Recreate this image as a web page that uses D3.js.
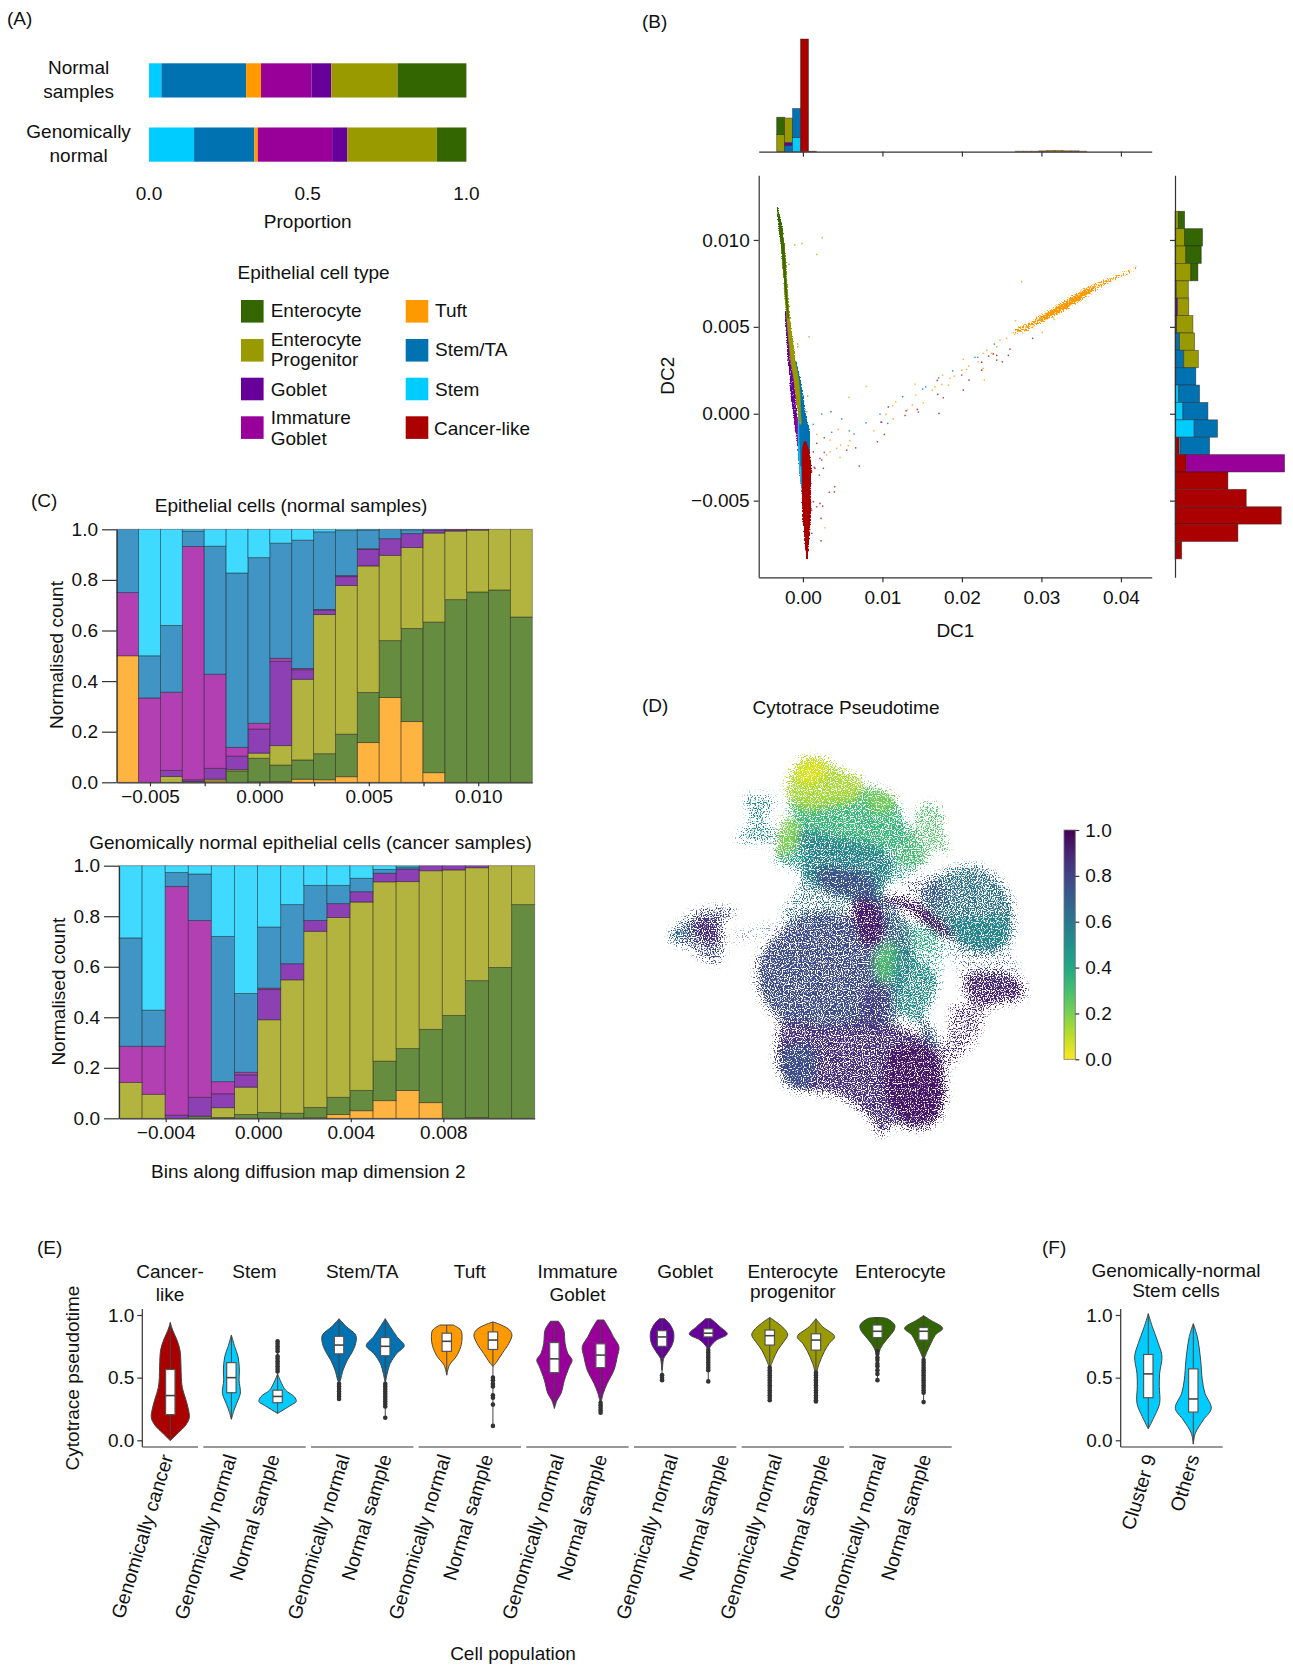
<!DOCTYPE html>
<html>
<head>
<meta charset="utf-8">
<script src="https://cdnjs.cloudflare.com/ajax/libs/d3/7.8.5/d3.min.js"></script>
<style>
  body { margin: 0; background: #fff; }
  svg { display: block; }
  text { font-family: "Liberation Sans", Arial, sans-serif; font-size: 19px; fill: #111; }
  .axis path, .axis line { stroke: #333; stroke-width: 1.2; }
  .axis text { font-size: 19px; }
</style>
</head>
<body>
<svg id="fig" width="1293" height="1666"></svg>
<script>
// cell types and colours
const typeNames = ["Enterocyte", "Enterocyte Progenitor", "Goblet", "Immature Goblet", "Tuft", "Stem/TA", "Stem", "Cancer-like"];
const typeColours = ["#336600", "#999900", "#660099", "#990099", "#ff9900", "#0072b2", "#00ccff", "#aa0000"];

// panel A: cumulative proportion, left to right
const stackOrderA = ["Stem", "Stem/TA", "Tuft", "Immature Goblet", "Goblet", "Enterocyte Progenitor", "Enterocyte"];
const propRows = ["Normal samples", "Genomically normal"];
const propNormal = [0.039, 0.306, 0.353, 0.512, 0.574, 0.783, 1.0];
const propGenNormal = [0.142, 0.332, 0.343, 0.577, 0.625, 0.907, 1.0];
const propTicks = [0, 0.5, 1];

// panel B: top histogram (dc1 bins)
const topBinStart = [-0.0033, -0.0023, -0.0013, -0.0003, 0.0007, 0.0267, 0.0277, 0.0287, 0.0297, 0.0307, 0.0317, 0.0327, 0.0337, 0.0347];
const topTA =     [0, 15, 73, 0, 0, 0, 0, 0, 0, 0, 0, 0, 0, 0];
const topStem =   [0, 0, 36, 0, 0, 0, 0, 0, 0, 0, 0, 0, 0, 0];
const topCancer = [0, 0, 0, 285, 1, 0, 0, 0, 0, 0, 0, 0, 0, 0];
const topTuft =   [0, 0, 0, 0, 0, 1, 1, 1, 2, 3, 3, 2, 2, 1];
const topGoblet = [0, 8, 0, 0, 0, 0, 0, 0, 0, 0, 0, 0, 0, 0];
const topEP =     [43, 62, 0, 0, 0, 0, 0, 0, 0, 0, 0, 0, 0, 0];
const topEnt =    [44, 0, 0, 0, 0, 0, 0, 0, 0, 0, 0, 0, 0, 0];

// panel B: right histogram (dc2 bins, top down)
const rightBinTop = [0.01165, 0.01065, 0.00965, 0.00865, 0.00765, 0.00665, 0.00565, 0.00465, 0.00365, 0.00265, 0.00165, 0.00065, -0.00035, -0.00135, -0.00235, -0.00335, -0.00435, -0.00535, -0.00635, -0.00735];
const rightCancer = [0, 0, 0, 0, 0, 0, 0, 0, 0, 0, 0, 0, 0, 10, 27, 127, 171, 255, 151, 16];
const rightStem =   [0, 0, 0, 0, 0, 0, 0, 0, 0, 0, 9, 19, 46, 3, 0, 0, 0, 0, 0, 0];
const rightTA =     [0, 0, 0, 0, 0, 0, 0, 11, 21, 50, 50, 60, 56, 70, 0, 0, 0, 0, 0, 0];
const rightImm =    [0, 0, 0, 0, 0, 0, 0, 0, 0, 0, 0, 0, 0, 0, 236, 0, 0, 0, 0, 0];
const rightGoblet = [0, 0, 0, 0, 3, 6, 4, 0, 0, 0, 0, 0, 0, 0, 0, 0, 0, 0, 0, 0];
const rightEP =     [8, 23, 26, 38, 29, 27, 39, 36, 35, 0, 0, 0, 0, 0, 0, 0, 0, 0, 0, 0];
const rightEnt =    [15, 43, 37, 17, 0, 0, 0, 0, 0, 0, 0, 0, 0, 0, 0, 0, 0, 0, 0, 0];

// panel B: dense part of the scatter, estimated as bands [dc2, dc1 left, dc1 right]
const bandEnt = [[0.01185, -0.00325, -0.00315], [0.01162, -0.00322, -0.00304], [0.01067, -0.00301, -0.00259], [0.00971, -0.00272, -0.00238], [0.00875, -0.00252, -0.00222], [0.00779, -0.00236, -0.00214], [0.00683, -0.00218, -0.00202], [0.0055, -0.0019, -0.0018]];
const bandEP = [[0.0107, -0.00295, -0.00262], [0.00971, -0.00272, -0.00236], [0.00875, -0.00258, -0.00213], [0.00779, -0.00243, -0.00204], [0.00683, -0.00228, -0.00191], [0.00587, -0.00208, -0.00171], [0.00491, -0.00192, -0.0015], [0.00395, -0.00172, -0.00121], [0.00299, -0.00152, -0.00095], [0.00204, -0.00115, -0.00055], [0.00108, -0.0009, -0.00035], [0.00012, -0.0006, -0.0003], [-0.0006, -0.0004, -0.0002]];
const bandGoblet = [[0.0059, -0.00222, -0.00205], [0.00491, -0.00213, -0.00185], [0.00395, -0.00196, -0.0016], [0.00299, -0.00184, -0.00145], [0.00204, -0.00162, -0.00115], [0.00108, -0.00153, -0.00095], [0.00012, -0.00121, -0.0008], [-0.00113, -0.00087, -0.0005]];
const bandImm = [[-0.0002, -0.00105, -0.0007], [-0.00113, -0.00087, -0.0004], [-0.00209, -0.00058, -0.0001], [-0.00305, -0.00045, 0.0001], [-0.00399, -0.00028, 0]];
const bandTA = [[0.00299, -0.00125, -0.00088], [0.00204, -0.00085, -0.00036], [0.00108, -0.00065, -0.00003], [0.00012, -0.00045, 0.00026], [-0.00113, -0.00045, 0.00085], [-0.00209, -0.00035, 0.00085], [-0.003, -0.0003, 0.0006]];
const bandStem = [[0.0006, -0.0006, -0.00038], [-0.00113, -0.0006, -0.0003], [-0.00209, -0.00056, -0.00028], [-0.00305, -0.00045, -0.0002], [-0.00399, -0.00028, -0.00008], [-0.0046, -0.00012, 0]];
const bandCancer = [[-0.0016, 0.00015, 0.0004], [-0.00209, -0.0001, 0.00075], [-0.00305, -0.00012, 0.00105], [-0.00399, -0.00012, 0.00098], [-0.00497, -0.0001, 0.00098], [-0.00593, -0.00003, 0.00098], [-0.00686, 0.00018, 0.00081], [-0.00784, 0.00035, 0.00068], [-0.00836, 0.00048, 0.00055]];
// orange arm: [dc1, dc2 low, dc2 high]
const bandTuft = [[0.0265, 0.00456, 0.00472], [0.02689, 0.00463, 0.00501], [0.02815, 0.00472, 0.0052], [0.02941, 0.0051, 0.00558], [0.03067, 0.00539, 0.00587], [0.03234, 0.00578, 0.00635], [0.03401, 0.00625, 0.00683], [0.0357, 0.00673, 0.00727], [0.03737, 0.00727, 0.00759], [0.03904, 0.00765, 0.00788], [0.04073, 0.00804, 0.00823], [0.04231, 0.00842, 0.00852]];
const bandTuftCore = [[0.0298, 0.00528, 0.00548], [0.03067, 0.00546, 0.00578], [0.03234, 0.00586, 0.00625], [0.03401, 0.00635, 0.00673], [0.0357, 0.00683, 0.00718], [0.0365, 0.00715, 0.00732]];

// panel B: single stray cells [dc1, dc2]
const strayTuft = [[0.02752, 0.0076], [0.02675, 0.00535], [0.03011, 0.00468], [0.03158, 0.00543], [0.02647, 0.00466], [0.02563, 0.00434], [0.02479, 0.00424], [0.02438, 0.00385], [0.02312, 0.00366], [0.02269, 0.00348], [0.02375, 0.00348], [0.02206, 0.00299], [0.02018, 0.00313], [0.02085, 0.00275], [0.01998, 0.00251], [0.0206, 0.00256], [0.02269, 0.00261], [0.02282, 0.00194], [0.01904, 0.00217], [0.0185, 0.00204], [0.01758, 0.00223], [0.01829, 0.00165], [0.01746, 0.00169], [0.01662, 0.00155], [0.01628, 0.00136], [0.0141, 0.00171], [0.01419, 0.00108], [0.01514, 0.00063], [0.01376, 0.0005], [0.01167, 0.00069], [0.0113, 0.00046], [0.01313, 0.00021], [0.01137, -0.0003], [0.01045, -0.00004], [0.00278, -0.00656], [0.00174, -0.00119], [0.00445, -0.0009], [0.00341, -0.00151], [0.00299, -0.00238], [0.00341, -0.00219], [0.00425, -0.00199], [0.00475, -0.0018], [0.00571, -0.00184], [0.00592, -0.00155], [0.00467, -0.00251], [0.00894, -0.00098], [0.00244, 0.01013], [-0.00011, 0.0098], [0.00174, 0.00917], [0.00798, 0.00158], [0.0058, 0.00094], [0.01074, 0.00039]];
const strayTA = [[0.01884, 0.00247], [0.02165, 0.00325], [0.02199, 0.00325], [0.02408, 0.00401], [0.01708, 0.00207], [0.01545, 0.00155], [0.01507, 0.00142], [0.01255, 0.00098], [0.01074, 0.0004], [0.0097, -0.00002], [0.01067, -0.00055], [0.00237, -0.00002], [0.00353, 0.00012], [0.00488, -0.0003], [0.00131, -0.00061], [0.0008, -0.00113], [0.00584, -0.00098], [0.00643, -0.00117], [0.00794, -0.00052], [0.00362, -0.00107]];
const strayCancer = [[0.02605, 0.00372], [0.02584, 0.00336], [0.02438, 0.00336], [0.02395, 0.00344], [0.02337, 0.00332], [0.02508, 0.00299], [0.02438, 0.00309], [0.02249, 0.00297], [0.02249, 0.00251], [0.02089, 0.00194], [0.01998, 0.00223], [0.0169, 0.00192], [0.02018, 0.00136], [0.01696, 0.00112], [0.01766, 0.00092], [0.01439, 0.00025], [0.01452, 0.0001], [0.01712, 0.00002], [0.01284, -0.0001], [0.01297, 0.00017], [0.01024, -0.00119], [0.0289, 0.00434], [0.00131, -0.00506], [0.00215, -0.00516], [0.00174, -0.00535], [0.00249, -0.00531], [0.00111, -0.00554], [0.00228, -0.00602], [0.00228, -0.00731], [0.00111, -0.00688], [0.004, -0.0042], [0.00395, -0.00449], [0.00332, -0.00452], [0.00709, -0.00301], [0.00237, -0.00266], [0.00257, -0.00314], [0.00152, -0.00314], [0.00111, -0.00334], [0.00131, -0.00219], [0.00174, -0.0017], [0.00269, -0.00138], [0.00936, -0.00161], [0.00664, -0.00196], [0.00551, -0.00209]];
const strayImm = [[0.00215, -0.00257], [0.00269, -0.00222], [0.00206, -0.00353], [0.00143, -0.00308], [0.00991, -0.00049], [0.00982, -0.00048]];
const strayEP = [[-0.00103, 0.00971], [-0.00175, 0.0086], [0.00077, 0.00443], [-0.00065, 0.00401], [-0.00065, 0.00385], [0.0006, 0.00102], [0.00048, 0.00012]];

const dc1Ticks = [0, 0.01, 0.02, 0.03, 0.04];
const dc2Ticks = [-0.005, 0, 0.005, 0.01];

// panel C: upper edge of each stack segment per bin (bottom segment first)
const normalTuft = [0.5, 0, 0, 0, 0.005, 0, 0.002, 0.003, 0.012, 0.01, 0.022, 0.157, 0.335, 0.24, 0.038, 0, 0, 0, 0];
const normalEnt = [0.5, 0, 0, 0.003, 0.005, 0.045, 0.095, 0.068, 0.088, 0.113, 0.19, 0.355, 0.56, 0.608, 0.633, 0.722, 0.752, 0.76, 0.653];
const normalEP = [0.5, 0, 0.023, 0.003, 0.012, 0.05, 0.115, 0.145, 0.407, 0.663, 0.778, 0.855, 0.897, 0.928, 0.985, 0.993, 0.997, 1, 1];
const normalGoblet = [0.5, 0, 0.047, 0.01, 0.055, 0.103, 0.21, 0.478, 0.445, 0.68, 0.813, 0.92, 0.963, 0.983, 0.997, 0.998, 0.998, 1, 1];
const normalImm = [0.75, 0.333, 0.356, 0.932, 0.427, 0.138, 0.233, 0.49, 0.45, 0.683, 0.817, 0.923, 0.963, 0.983, 0.997, 1, 1, 1, 1];
const normalTA = [1, 0.5, 0.62, 0.993, 0.933, 0.827, 0.888, 0.945, 0.957, 0.99, 0.995, 0.997, 1, 0.998, 1, 1, 1, 1, 1];
const normalStem = [1, 1, 1, 1, 1, 1, 1, 1, 1, 1, 1, 1, 1, 1, 1, 1, 1, 1, 1];

const genTuft = [0, 0, 0, 0, 0, 0, 0, 0, 0.002, 0.015, 0.03, 0.07, 0.11, 0.062, 0, 0.003, 0, 0];
const genEnt = [0, 0, 0, 0.008, 0.003, 0.015, 0.023, 0.02, 0.043, 0.083, 0.11, 0.226, 0.276, 0.352, 0.407, 0.545, 0.597, 0.846];
const genEP = [0.142, 0.095, 0, 0.008, 0.042, 0.123, 0.39, 0.548, 0.74, 0.795, 0.856, 0.936, 0.937, 0.98, 0.983, 0.992, 1, 1];
const genGoblet = [0.142, 0.095, 0.012, 0.083, 0.097, 0.172, 0.51, 0.612, 0.783, 0.85, 0.897, 0.97, 0.987, 1, 1, 1, 1, 1];
const genImm = [0.285, 0.285, 0.918, 0.783, 0.145, 0.182, 0.515, 0.612, 0.783, 0.85, 0.897, 0.97, 0.987, 1, 1, 1, 1, 1];
const genTA = [0.714, 0.428, 0.973, 0.967, 0.72, 0.494, 0.757, 0.846, 0.922, 0.922, 0.95, 0.985, 0.995, 1, 1, 1, 1, 1];
const genStem = [1, 1, 1, 1, 1, 1, 1, 1, 1, 1, 1, 1, 1, 1, 1, 1, 1, 1];

const countTicks = [0, 0.2, 0.4, 0.6, 0.8, 1];
const normalBinTicks = [-0.005, -0.0025, 0, 0.0025, 0.005, 0.0075, 0.01];
const genBinTicks = [-0.004, 0, 0.004, 0.008];

// panel D: the embedding, estimated as outlined regions with a mean pseudotime and a cell density
const umapTopYellow = [[440, 290], [478, 208], [540, 200], [600, 235], [640, 255], [672, 268], [650, 330], [560, 350], [500, 360], [445, 325]];
const umapYellowCore = [[480, 225], [535, 210], [560, 240], [520, 280], [470, 270]];
const umapTopGreen = [[445, 330], [500, 330], [640, 310], [690, 290], [755, 315], [795, 410], [775, 460], [700, 500], [600, 480], [500, 440], [465, 385]];
const umapTopLime = [[680, 305], [750, 310], [765, 350], [700, 365]];
const umapTopTeal = [[480, 425], [600, 445], [700, 465], [755, 510], [720, 615], [650, 630], [560, 600], [490, 570], [480, 500]];
const umapTopDark = [[530, 540], [600, 535], [700, 565], [700, 620], [620, 620], [550, 595]];
const umapLeftLime = [[435, 380], [472, 395], [478, 450], [445, 495], [410, 495], [414, 440]];
const umapLeftGreen = [[405, 480], [490, 480], [485, 530], [420, 525]];
const umapFragment = [[318, 318], [412, 330], [378, 372], [415, 445], [380, 458], [285, 446], [332, 400], [320, 350]];
const umapRightGreen = [[842, 342], [908, 352], [908, 400], [922, 495], [880, 475], [862, 515], [800, 535], [760, 500], [805, 430], [828, 380]];
const umapBridgeRight = [[770, 400], [820, 430], [850, 510], [780, 570], [715, 570], [750, 500]];
const umapRightBlob = [[895, 555], [1000, 528], [1065, 558], [1118, 640], [1122, 705], [1105, 765], [1020, 792], [945, 755], [895, 695], [845, 625]];
const umapRightBlobLow = [[930, 700], [1100, 690], [1095, 755], [1010, 775], [945, 740]];
const umapStreak = [[712, 630], [775, 618], [872, 670], [945, 748], [912, 738], [850, 698], [790, 652]];
const umapStreakFade = [[790, 585], [900, 565], [920, 640], [870, 655]];
const umapIsle = [[88, 745], [180, 660], [288, 662], [250, 700], [250, 770], [244, 812], [212, 818], [148, 775]];
const umapIsleCore = [[165, 695], [230, 695], [235, 760], [175, 745]];
const umapIsleTip = [[88, 745], [130, 705], [145, 720], [105, 755]];
const umapIsleTrail = [[270, 740], [410, 700], [410, 716], [290, 760]];
const umapNeck = [[425, 685], [465, 610], [500, 560], [720, 590], [730, 640], [640, 650], [600, 690], [500, 700]];
const umapMainUpper = [[362, 790], [480, 680], [600, 670], [655, 690], [705, 800], [730, 960], [685, 1010], [560, 1020], [430, 1000], [372, 935], [350, 880]];
const umapMainEast = [[690, 620], [760, 640], [810, 720], [815, 800], [780, 900], [770, 1000], [680, 1010], [700, 800]];
const umapColumn = [[640, 635], [702, 635], [735, 725], [680, 770], [648, 705]];
const umapColumnLow = [[675, 895], [745, 895], [725, 1005], [675, 995]];
const umapCentreGreen = [[700, 800], [750, 755], [785, 800], [765, 865], [720, 875]];
const umapSpotGreen = [[795, 710], [885, 720], [880, 790], [815, 780]];
const umapEastFade = [[720, 680], [930, 750], [905, 835], [890, 885], [780, 790]];
const umapSideTeal = [[775, 775], [860, 825], [895, 880], [875, 935], [835, 995], [775, 965], [755, 880]];
const umapThinArc = [[835, 980], [872, 1005], [897, 1075], [870, 1070], [845, 1025]];
const umapLinkEast = [[940, 765], [1100, 775], [1135, 870], [1000, 885], [960, 845]];
const umapEastDark = [[970, 865], [1050, 845], [1145, 875], [1152, 922], [1090, 940], [1040, 950], [985, 925]];
const umapSouthEast = [[940, 945], [1035, 955], [1005, 1050], [955, 1105], [900, 1140], [875, 1100], [925, 1035]];
const umapLower = [[430, 1000], [560, 1010], [700, 995], [805, 1015], [885, 1075], [918, 1200], [888, 1295], [830, 1320], [760, 1305], [722, 1335], [688, 1285], [618, 1228], [540, 1208], [465, 1200], [432, 1172], [408, 1100]];
const umapLowerDark = [[760, 1075], [865, 1075], [915, 1180], [885, 1290], [790, 1290], [738, 1200]];
const umapLowerLeft = [[425, 1080], [520, 1070], [510, 1185], [445, 1195]];

const umapShapes = [umapIsle, umapIsleCore, umapIsleTip, umapIsleTrail, umapFragment, umapNeck, umapBridgeRight, umapTopGreen, umapTopYellow, umapYellowCore, umapTopLime, umapTopTeal, umapTopDark, umapLeftGreen, umapLeftLime, umapRightGreen, umapLinkEast, umapRightBlob, umapRightBlobLow, umapStreakFade, umapEastFade, umapStreak, umapMainUpper, umapMainEast, umapColumn, umapColumnLow, umapCentreGreen, umapSpotGreen, umapSideTeal, umapThinArc, umapEastDark, umapSouthEast, umapLower, umapLowerLeft, umapLowerDark];
const umapPseudotime = [0.78, 0.9, 0.6, 0.72, 0.52, 0.62, 0.42, 0.33, 0.13, 0.05, 0.2, 0.56, 0.76, 0.42, 0.2, 0.27, 0.72, 0.63, 0.52, 0.8, 0.42, 0.93, 0.77, 0.72, 0.93, 0.84, 0.28, 0.36, 0.52, 0.72, 0.9, 0.88, 0.86, 0.74, 0.95];
const umapDensity = [0.62, 0.7, 0.7, 0.2, 0.5, 0.45, 0.5, 0.82, 0.85, 0.95, 0.85, 0.85, 0.9, 0.62, 0.85, 0.55, 0.28, 0.72, 0.75, 0.4, 0.34, 0.95, 0.82, 0.7, 0.95, 0.7, 0.85, 0.4, 0.7, 0.8, 0.8, 0.5, 0.82, 0.75, 0.85];
const cbarTicks = [0, 0.2, 0.4, 0.6, 0.8, 1];

// panel E/F: violins, [pseudotime, half width]
const facetNames = ["Stem", "Stem/TA", "Tuft", "Immature Goblet", "Goblet", "Enterocyte progenitor", "Enterocyte"];
const sampleNames = ["Genomically normal", "Normal sample"];

const cancerViolin = [[0.94, 0], [0.88, 7], [0.8, 20], [0.72, 29], [0.6, 32], [0.5, 33], [0.42, 36], [0.33, 46], [0.25, 54], [0.18, 57], [0.12, 46], [0.06, 24], [0, 1]];
const stemGenViolin = [[0.84, 0], [0.747, 10], [0.668, 20], [0.561, 24], [0.481, 23], [0.375, 27], [0.322, 20], [0.242, 8], [0.168, 0]];
const stemNormViolin = [[0.53, 0], [0.455, 12], [0.4, 24], [0.348, 50], [0.31, 56], [0.28, 40], [0.215, 0]];
const taGenViolin = [[0.97, 0], [0.907, 22], [0.84, 50], [0.774, 50], [0.707, 40], [0.64, 25], [0.56, 12], [0.48, 4], [0.455, 0]];
const taNormViolin = [[0.97, 0], [0.907, 15], [0.827, 35], [0.755, 57], [0.694, 35], [0.614, 15], [0.535, 6], [0.468, 1]];
const tuftGenViolin = [[0.92, 20], [0.88, 42], [0.827, 46], [0.747, 42], [0.667, 28], [0.6, 8], [0.52, 0]];
const tuftNormViolin = [[0.945, 0], [0.92, 25], [0.88, 50], [0.84, 57], [0.774, 48], [0.694, 28], [0.614, 8], [0.59, 0]];
const immGenViolin = [[0.95, 12], [0.88, 28], [0.774, 32], [0.694, 40], [0.64, 53], [0.588, 45], [0.48, 30], [0.375, 20], [0.32, 8], [0.255, 0]];
const immNormViolin = [[0.96, 10], [0.88, 28], [0.827, 38], [0.747, 55], [0.667, 50], [0.56, 40], [0.455, 20], [0.375, 8], [0.31, 2]];
const gobletGenViolin = [[0.97, 8], [0.92, 25], [0.855, 35], [0.774, 32], [0.694, 15], [0.654, 5], [0.56, 1]];
const gobletNormViolin = [[0.97, 8], [0.907, 35], [0.848, 57], [0.8, 25], [0.747, 6], [0.72, 2]];
const epGenViolin = [[0.98, 0], [0.933, 25], [0.88, 47], [0.84, 54], [0.787, 42], [0.72, 24], [0.654, 12], [0.588, 2]];
const epNormViolin = [[0.97, 0], [0.907, 20], [0.827, 56], [0.774, 40], [0.707, 25], [0.614, 10], [0.54, 2]];
const entGenViolin = [[0.98, 10], [0.97, 30], [0.92, 52], [0.88, 50], [0.827, 35], [0.76, 15], [0.707, 5], [0.68, 1]];
const entNormViolin = [[0.995, 0], [0.96, 20], [0.894, 57], [0.84, 35], [0.774, 22], [0.707, 10], [0.646, 1]];

// q1, median, q3
const cancerBox = [0.205, 0.357, 0.565];
const stemGenBox = [0.38, 0.5, 0.62];
const stemNormBox = [0.3, 0.35, 0.4];
const taGenBox = [0.69, 0.76, 0.83];
const taNormBox = [0.675, 0.75, 0.82];
const tuftGenBox = [0.71, 0.79, 0.855];
const tuftNormBox = [0.725, 0.8, 0.865];
const immGenBox = [0.54, 0.65, 0.78];
const immNormBox = [0.58, 0.68, 0.77];
const gobletGenBox = [0.75, 0.825, 0.875];
const gobletNormBox = [0.825, 0.855, 0.89];
const epGenBox = [0.76, 0.835, 0.88];
const epNormBox = [0.72, 0.8, 0.85];
const entGenBox = [0.82, 0.87, 0.92];
const entNormBox = [0.8, 0.87, 0.9];

const stemNormOut = [0.79, 0.77, 0.75, 0.73, 0.71, 0.67, 0.65, 0.63, 0.61, 0.59, 0.57, 0.55];
const taGenOut = [0.45, 0.43, 0.41, 0.39, 0.37, 0.35, 0.33];
const taNormOut = [0.45, 0.43, 0.41, 0.39, 0.37, 0.35, 0.33, 0.31, 0.29, 0.27, 0.18];
const tuftNormOut = [0.5, 0.48, 0.45, 0.43, 0.36, 0.34, 0.285, 0.115];
const immNormOut = [0.3, 0.28, 0.26, 0.24, 0.22];
const gobletGenOut = [0.52, 0.5, 0.48];
const gobletNormOut = [0.72, 0.7, 0.68, 0.66, 0.64, 0.62, 0.6, 0.58, 0.56, 0.47];
const epGenOut = [0.58, 0.56, 0.54, 0.52, 0.5, 0.48, 0.46, 0.44, 0.42, 0.4, 0.38, 0.36, 0.34, 0.32];
const epNormOut = [0.54, 0.52, 0.5, 0.48, 0.46, 0.44, 0.42, 0.4, 0.38, 0.36, 0.34, 0.32, 0.31];
const entGenOut = [0.71, 0.69, 0.66, 0.64, 0.61, 0.59, 0.56, 0.53, 0.48];
const entNormOut = [0.64, 0.62, 0.6, 0.58, 0.56, 0.54, 0.52, 0.5, 0.48, 0.46, 0.44, 0.42, 0.4, 0.38, 0.305];

const cluster9Violin = [[1.01, 0], [0.907, 12], [0.774, 30], [0.668, 41], [0.535, 34], [0.428, 33], [0.295, 34], [0.189, 18], [0.093, 0]];
const othersViolin = [[0.93, 0], [0.827, 12], [0.641, 22], [0.481, 27], [0.375, 35], [0.255, 54], [0.162, 30], [0.056, 6], [-0.03, 0]];
const cluster9Box = [0.34, 0.53, 0.685];
const othersBox = [0.225, 0.33, 0.57];
const violinTicks = [0, 0.5, 1];

const colourOf = d3.scaleOrdinal().domain(typeNames).range(typeColours);
const svg = d3.select("#fig");
const defs = svg.append("defs");

function label(x, y, str, anchor, size) {
  return svg.append("text").attr("x", x).attr("y", y).attr("dy", "0.35em")
    .attr("text-anchor", anchor || "start")
    .style("font-size", size ? size + "px" : null)
    .text(str);
}
function vLabel(x, y, str) {
  return svg.append("text").attr("transform", "translate(" + x + "," + y + ") rotate(-90)")
    .attr("dy", "0.35em").attr("text-anchor", "middle").text(str);
}

// speckled look for the dense clouds: a grain texture that masks a blurred fill
function stippleFilter(id, blur, keep) {
  const f = defs.append("filter").attr("id", id).attr("filterUnits", "userSpaceOnUse")
    .attr("x", 0).attr("y", 0).attr("width", 1293).attr("height", 1666)
    .attr("color-interpolation-filters", "sRGB");
  f.append("feGaussianBlur").attr("in", "SourceGraphic").attr("stdDeviation", blur).attr("result", "soft");
  f.append("feComponentTransfer").attr("in", "soft").attr("result", "solid")
    .append("feFuncA").attr("type", "linear").attr("slope", 60);
  f.append("feGaussianBlur").attr("in", "SourceAlpha").attr("stdDeviation", blur).attr("result", "softA");
  f.append("feTurbulence").attr("type", "fractalNoise").attr("baseFrequency", 0.85).attr("numOctaves", 1).attr("seed", 7).attr("result", "grain");
  f.append("feColorMatrix").attr("in", "grain").attr("type", "matrix")
    .attr("values", "0 0 0 0 0  0 0 0 0 0  0 0 0 0 0  0 0 0 3 -1").attr("result", "grainA");
  f.append("feComposite").attr("in", "grainA").attr("in2", "softA").attr("operator", "arithmetic")
    .attr("k1", 0).attr("k2", 1).attr("k3", keep).attr("k4", -1).attr("result", "sum");
  f.append("feComponentTransfer").attr("in", "sum").attr("result", "mask")
    .append("feFuncA").attr("type", "linear").attr("slope", 4);
  f.append("feComposite").attr("in", "solid").attr("in2", "mask").attr("operator", "in");
}
stippleFilter("stippleB", 0.7, 1.3);
stippleFilter("stippleArm", 1.2, 1.1);
stippleFilter("stippleD", 4.5, 0.95);

// ---- panel labels
label(7, 18, "(A)");
label(642, 21, "(B)");
label(31, 500, "(C)");
label(642, 705, "(D)");
label(37, 1247, "(E)");
label(1042, 1247, "(F)");

// ---- panel A
const propX = d3.scaleLinear().domain([0, 1]).range([149, 466.4]);
const propY = d3.scaleBand().domain(propRows).range([63.3, 161.7]).paddingInner(0.467);
[propNormal, propGenNormal].forEach((row, r) => {
  row.forEach((top, i) => {
    const start = i ? row[i - 1] : 0;
    svg.append("rect").attr("x", propX(start)).attr("y", propY(propRows[r]))
      .attr("width", propX(top) - propX(start)).attr("height", propY.bandwidth())
      .attr("fill", colourOf(stackOrderA[i]));
  });
});
label(78.6, 67.5, "Normal", "middle");
label(78.6, 91.5, "samples", "middle");
label(78.6, 131.5, "Genomically", "middle");
label(78.6, 155, "normal", "middle");
propTicks.forEach(t => label(propX(t), 193.3, d3.format(".1f")(t), "middle"));
label(307.7, 221, "Proportion", "middle");

label(237.5, 272.7, "Epithelial cell type");
const legendCol = [241, 405.7];
const legendRow = [300, 339, 377.7, 416.3];
typeNames.forEach((name, i) => {
  svg.append("rect").attr("x", legendCol[i > 3 ? 1 : 0]).attr("y", legendRow[i % 4])
    .attr("width", 22.6).attr("height", 22.6).attr("fill", colourOf(name));
});
label(270.7, 310, "Enterocyte");
label(270.7, 339.5, "Enterocyte");
label(270.7, 359.5, "Progenitor");
label(270.7, 389, "Goblet");
label(270.7, 417.5, "Immature");
label(270.7, 438.5, "Goblet");
label(435, 310, "Tuft");
label(435, 349, "Stem/TA");
label(435, 389, "Stem");
label(434, 428.7, "Cancer-like");

// ---- panel B
const dc1 = d3.scaleLinear().domain([-0.00556, 0.04387]).range([758.7, 1151.7]);
const dc2 = d3.scaleLinear().domain([-0.00941, 0.01372]).range([577.3, 175.3]);

function drawHistogram(rows) {
  rows.forEach(d => {
    svg.append("rect").attr("x", d.x).attr("y", d.y).attr("width", d.w).attr("height", d.h)
      .attr("fill", d.fill).attr("stroke", "#222").attr("stroke-opacity", 0.55).attr("stroke-width", 0.8);
  });
}

const topStackOrder = [[topCancer, "Cancer-like"], [topStem, "Stem"], [topTA, "Stem/TA"], [topTuft, "Tuft"], [topGoblet, "Goblet"], [topEP, "Enterocyte Progenitor"], [topEnt, "Enterocyte"]];
const topY = d3.scaleLinear().domain([0, 285]).range([151.6, 39]);
const topRects = [];
topBinStart.forEach((start, i) => {
  let sum = 0;
  topStackOrder.forEach(([values, name]) => {
    if (values[i] > 0) {
      topRects.push({ x: dc1(start), w: dc1(start + 0.001) - dc1(start), y: topY(sum + values[i]), h: topY(sum) - topY(sum + values[i]), fill: colourOf(name) });
    }
    sum += values[i];
  });
});
drawHistogram(topRects);
svg.append("g").attr("class", "axis").attr("transform", "translate(0,151.6)")
  .call(d3.axisBottom(dc1).tickValues(dc1Ticks).tickSize(5).tickSizeOuter(0).tickFormat(""))
  .select(".domain").attr("stroke-width", 1.8).attr("stroke", "#444");

const rightStackOrder = [[rightCancer, "Cancer-like"], [rightStem, "Stem"], [rightTA, "Stem/TA"], [rightImm, "Immature Goblet"], [rightGoblet, "Goblet"], [rightEP, "Enterocyte Progenitor"], [rightEnt, "Enterocyte"]];
const rightX = d3.scaleLinear().domain([0, 264]).range([1175, 1285]);
const rightRects = [];
rightBinTop.forEach((top, i) => {
  let sum = 0;
  rightStackOrder.forEach(([values, name]) => {
    if (values[i] > 0) {
      rightRects.push({ x: rightX(sum), w: rightX(sum + values[i]) - rightX(sum), y: dc2(top), h: dc2(top - 0.001) - dc2(top), fill: colourOf(name) });
    }
    sum += values[i];
  });
});
drawHistogram(rightRects);
svg.append("g").attr("class", "axis").attr("transform", "translate(1175,0)")
  .call(d3.axisLeft(dc2).tickValues(dc2Ticks).tickSize(5).tickSizeOuter(0).tickFormat(""));

const cloudB = svg.append("g").attr("filter", "url(#stippleB)");
const vertBand = d3.area().y(d => dc2(d[0])).x0(d => dc1(d[1])).x1(d => dc1(d[2])).curve(d3.curveLinear);
const horizBand = d3.area().x(d => dc1(d[0])).y0(d => dc2(d[1])).y1(d => dc2(d[2])).curve(d3.curveLinear);
[[bandGoblet, "Goblet", 0.85], [bandImm, "Immature Goblet", 0.85], [bandStem, "Stem", 1], [bandTA, "Stem/TA", 1], [bandEP, "Enterocyte Progenitor", 1], [bandEnt, "Enterocyte", 0.9], [bandCancer, "Cancer-like", 1]].forEach(([band, name, alpha]) => {
  cloudB.append("path").attr("d", vertBand(band)).attr("fill", colourOf(name)).attr("fill-opacity", alpha)
    .attr("stroke", colourOf(name)).attr("stroke-width", 0.6);
});
const armB = svg.append("g").attr("filter", "url(#stippleArm)");
armB.append("path").attr("d", horizBand(bandTuft)).attr("fill", colourOf("Tuft")).attr("fill-opacity", 0.62);
armB.append("path").attr("d", horizBand(bandTuftCore)).attr("fill", colourOf("Tuft"));

[[strayTuft, "Tuft"], [strayTA, "Stem/TA"], [strayCancer, "Cancer-like"], [strayImm, "Immature Goblet"], [strayEP, "Enterocyte Progenitor"]].forEach(([points, name]) => {
  svg.append("g").selectAll("circle").data(points).enter().append("circle")
    .attr("cx", d => dc1(d[0])).attr("cy", d => dc2(d[1])).attr("r", 0.85)
    .attr("fill", colourOf(name)).attr("fill-opacity", 0.75);
});

svg.append("g").attr("class", "axis").attr("transform", "translate(0,577.3)")
  .call(d3.axisBottom(dc1).tickValues(dc1Ticks).tickSize(5).tickPadding(8).tickSizeOuter(0).tickFormat(d3.format(".2f")));
svg.append("g").attr("class", "axis").attr("transform", "translate(758.7,0)")
  .call(d3.axisLeft(dc2).tickValues(dc2Ticks).tickSize(5).tickPadding(4).tickSizeOuter(0).tickFormat(d3.format(".3f")));
label(955.4, 630, "DC1", "middle");
vLabel(667, 375.7, "DC2");

// ---- panel C
const stackOrderC = ["Tuft", "Enterocyte", "Enterocyte Progenitor", "Goblet", "Immature Goblet", "Stem/TA", "Stem"];

function drawStacks(layers, xScale, yScale, binStart, binWidth) {
  layers.forEach((tops, layer) => {
    tops.forEach((top, i) => {
      const below = layer ? layers[layer - 1][i] : 0;
      if (top <= below) return;
      svg.append("rect").attr("x", xScale(binStart + i * binWidth)).attr("y", yScale(top))
        .attr("width", xScale(binStart + (i + 1) * binWidth) - xScale(binStart + i * binWidth))
        .attr("height", yScale(below) - yScale(top))
        .attr("fill", colourOf(stackOrderC[layer])).attr("fill-opacity", 0.75)
        .attr("stroke", "#222").attr("stroke-opacity", 0.45).attr("stroke-width", 0.9);
    });
  });
}

const normalX = d3.scaleLinear().domain([-0.00652, 0.01247]).range([116.7, 532.3]);
const normalY = d3.scaleLinear().domain([0, 1]).range([782.3, 529.3]);
drawStacks([normalTuft, normalEnt, normalEP, normalGoblet, normalImm, normalTA, normalStem], normalX, normalY, -0.00652, 0.0009995);
const normalTickText = new Map([[-0.005, "−0.005"], [0, "0.000"], [0.005, "0.005"], [0.01, "0.010"]]);
svg.append("g").attr("class", "axis").attr("transform", "translate(0,782.3)")
  .call(d3.axisBottom(normalX).tickValues(normalBinTicks).tickSize(4).tickPadding(3).tickSizeOuter(0).tickFormat(d => normalTickText.get(d) || ""));
svg.append("g").attr("class", "axis").attr("transform", "translate(116.7,0)")
  .call(d3.axisLeft(normalY).tickValues(countTicks).tickSize(14.7).tickPadding(4).tickSizeOuter(0).tickFormat(d3.format(".1f")));
label(291, 505, "Epithelial cells (normal samples)", "middle");
vLabel(56, 655, "Normalised count");

const genX = d3.scaleLinear().domain([-0.006017, 0.011948]).range([119, 534.7]);
const genY = d3.scaleLinear().domain([0, 1]).range([1118.3, 865.7]);
drawStacks([genTuft, genEnt, genEP, genGoblet, genImm, genTA, genStem], genX, genY, -0.006017, 0.000998);
svg.append("g").attr("class", "axis").attr("transform", "translate(0,1118.3)")
  .call(d3.axisBottom(genX).tickValues(genBinTicks).tickSize(4).tickPadding(3).tickSizeOuter(0).tickFormat(d3.format(".3f")));
svg.append("g").attr("class", "axis").attr("transform", "translate(119,0)")
  .call(d3.axisLeft(genY).tickValues(countTicks).tickSize(15).tickPadding(4).tickSizeOuter(0).tickFormat(d3.format(".1f")));
label(310.5, 842.7, "Genomically normal epithelial cells (cancer samples)", "middle");
vLabel(58.3, 991.7, "Normalised count");
label(308.3, 1171, "Bins along diffusion map dimension 2", "middle");

// ---- panel D
const umapX = d3.scaleLinear().domain([0, 1500]).range([640, 1140]);
const umapY = d3.scaleLinear().domain([0, 1380]).range([690, 1150]);
const pseudoColour = v => d3.interpolateViridis(1 - v);
const umapLine = d3.line().x(d => umapX(d[0])).y(d => umapY(d[1])).curve(d3.curveCatmullRomClosed);
svg.append("g").attr("filter", "url(#stippleD)").selectAll("path").data(umapShapes).enter().append("path")
  .attr("d", umapLine)
  .attr("fill", (d, i) => pseudoColour(umapPseudotime[i]))
  .attr("fill-opacity", (d, i) => umapDensity[i]);
label(846, 707.3, "Cytotrace Pseudotime", "middle");

const cbarY = d3.scaleLinear().domain([0, 1]).range([1059.3, 830]);
const cbarGrad = defs.append("linearGradient").attr("id", "cbar").attr("x1", 0).attr("x2", 0).attr("y1", 1).attr("y2", 0);
d3.range(0, 1.01, 0.1).forEach(t => cbarGrad.append("stop").attr("offset", t).attr("stop-color", pseudoColour(t)));
svg.append("rect").attr("x", 1064).attr("y", cbarY(1)).attr("width", 11.3).attr("height", cbarY(0) - cbarY(1))
  .attr("fill", "url(#cbar)").attr("stroke", "#777").attr("stroke-width", 0.8);
const cbarAxis = svg.append("g").attr("class", "axis").attr("transform", "translate(1075.3,0)")
  .call(d3.axisRight(cbarY).tickValues(cbarTicks).tickSize(4).tickPadding(6).tickSizeOuter(0).tickFormat(d3.format(".1f")));
cbarAxis.select(".domain").remove();

// ---- panels E and F
const pseudoY = d3.scaleLinear().domain([0, 1]).range([1440.3, 1315]);
const widthScale = d3.scaleLinear().domain([0, 57]).range([0, 19]);

function drawViolin(cx, profile, box, outliers, fill) {
  const area = d3.area().y(d => pseudoY(d[0]))
    .x0(d => cx - widthScale(d[1])).x1(d => cx + widthScale(d[1])).curve(d3.curveCatmullRom);
  svg.append("path").attr("d", area(profile)).attr("fill", fill).attr("stroke", "#444").attr("stroke-width", 1);
  const values = profile.map(d => d[0]).concat(outliers || []);
  svg.append("line").attr("x1", cx).attr("x2", cx)
    .attr("y1", pseudoY(d3.max(values))).attr("y2", pseudoY(d3.min(values)))
    .attr("stroke", "#444").attr("stroke-width", 1);
  (outliers || []).forEach(v => {
    svg.append("circle").attr("cx", cx).attr("cy", pseudoY(v)).attr("r", 2.3).attr("fill", "#333");
  });
  svg.append("rect").attr("x", cx - 4.7).attr("width", 9.4)
    .attr("y", pseudoY(box[2])).attr("height", pseudoY(box[0]) - pseudoY(box[2]))
    .attr("fill", "#fff").attr("stroke", "#555").attr("stroke-width", 1.2);
  svg.append("line").attr("x1", cx - 4.7).attr("x2", cx + 4.7)
    .attr("y1", pseudoY(box[1])).attr("y2", pseudoY(box[1]))
    .attr("stroke", "#444").attr("stroke-width", 1.6);
}

function rotatedLabel(x, str) {
  svg.append("text").attr("transform", "translate(" + x + ",1455) rotate(-73)")
    .attr("text-anchor", "end").attr("dy", "0.35em").style("font-size", "19.4px").text(str);
}

const facetX = d3.scaleBand().domain(facetNames).range([203.3, 951.7]).paddingInner(0.0492);
const facetColours = ["Stem", "Stem/TA", "Tuft", "Immature Goblet", "Goblet", "Enterocyte Progenitor", "Enterocyte"];
const facetTitles = [["Stem"], ["Stem/TA"], ["Tuft"], ["Immature", "Goblet"], ["Goblet"], ["Enterocyte", "progenitor"], ["Enterocyte"]];
const facetViolins = [[stemGenViolin, stemNormViolin], [taGenViolin, taNormViolin], [tuftGenViolin, tuftNormViolin], [immGenViolin, immNormViolin], [gobletGenViolin, gobletNormViolin], [epGenViolin, epNormViolin], [entGenViolin, entNormViolin]];
const facetBoxes = [[stemGenBox, stemNormBox], [taGenBox, taNormBox], [tuftGenBox, tuftNormBox], [immGenBox, immNormBox], [gobletGenBox, gobletNormBox], [epGenBox, epNormBox], [entGenBox, entNormBox]];
const facetOutliers = [[null, stemNormOut], [taGenOut, taNormOut], [null, tuftNormOut], [null, immNormOut], [gobletGenOut, gobletNormOut], [epGenOut, epNormOut], [entGenOut, entNormOut]];
// where each rotated x label ends
const sampleLabelX = [[230.5, 273.5], [343.5, 385.5], [444.5, 487], [558, 601], [672, 723], [776, 824], [880, 925]];

// cancer-like has its own short facet
drawViolin(170.3, cancerViolin, cancerBox, null, colourOf("Cancer-like"));
svg.append("line").attr("x1", 142.3).attr("x2", 198).attr("y1", 1447).attr("y2", 1447).attr("stroke", "#333").attr("stroke-width", 1.2);
rotatedLabel(167, "Genomically cancer");
label(170, 1271, "Cancer-", "middle");
label(170, 1294.5, "like", "middle");

facetNames.forEach((name, f) => {
  const inner = d3.scalePoint().domain(sampleNames).range([facetX(name), facetX(name) + facetX.bandwidth()]).padding(0.608);
  sampleNames.forEach((sample, s) => {
    drawViolin(inner(sample), facetViolins[f][s], facetBoxes[f][s], facetOutliers[f][s], colourOf(facetColours[f]));
    rotatedLabel(sampleLabelX[f][s], sample);
  });
  svg.append("line").attr("x1", facetX(name)).attr("x2", facetX(name) + facetX.bandwidth())
    .attr("y1", 1447).attr("y2", 1447).attr("stroke", "#333").attr("stroke-width", 1.2);
  const centre = facetX(name) + facetX.bandwidth() / 2;
  const lineY = facetTitles[f].length > 1 && name === "Enterocyte progenitor" ? [1271, 1291] : [1271, 1294.5];
  facetTitles[f].forEach((line, l) => label(centre, lineY[l], line, "middle"));
});

svg.append("g").attr("class", "axis").attr("transform", "translate(142.3,0)")
  .call(d3.axisLeft(pseudoY).tickValues(violinTicks).tickSize(5).tickPadding(3).tickSizeOuter(0).tickFormat(d3.format(".1f")))
  .select(".domain").attr("d", "M0,1309V1447");
vLabel(72.7, 1378, "Cytotrace pseudotime");
label(513, 1653, "Cell population", "middle");

drawViolin(1148.3, cluster9Violin, cluster9Box, null, colourOf("Stem"));
drawViolin(1193.3, othersViolin, othersBox, null, colourOf("Stem"));
svg.append("line").attr("x1", 1120.7).attr("x2", 1222.7).attr("y1", 1447).attr("y2", 1447).attr("stroke", "#333").attr("stroke-width", 1.2);
svg.append("g").attr("class", "axis").attr("transform", "translate(1120.7,0)")
  .call(d3.axisLeft(pseudoY).tickValues(violinTicks).tickSize(5).tickPadding(3).tickSizeOuter(0).tickFormat(d3.format(".1f")))
  .select(".domain").attr("d", "M0,1309V1447");
label(1176, 1270, "Genomically-normal", "middle");
label(1176, 1290, "Stem cells", "middle");
rotatedLabel(1150, "Cluster 9");
rotatedLabel(1193, "Others");
</script>
</body>
</html>
